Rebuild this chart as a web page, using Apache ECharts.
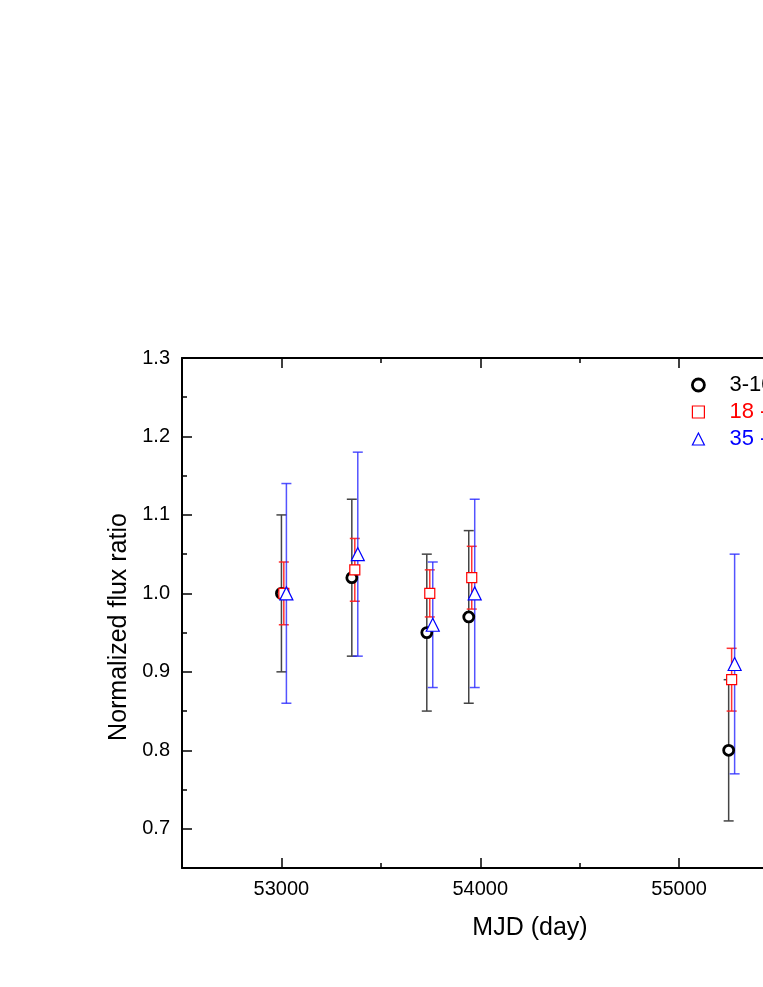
<!DOCTYPE html>
<html><head><meta charset="utf-8">
<script src="https://cdn.jsdelivr.net/npm/echarts@6/dist/echarts.min.js"></script>
<style>html,body{margin:0;padding:0;overflow:hidden;background:#fff}#c{width:960px;height:987px}</style>
</head><body><div id="c"></div>
<script>
// ---- data ----
const seriesNames = ['3-10 keV', '18 - 35 keV', '35 - 60 keV'];
const seriesColors = ['#000000', '#ff0000', '#0000ff'];
const barColors = ['#444444', 'rgba(255,30,30,0.9)', 'rgba(40,40,255,0.8)'];

const mjdBlack = [53000, 53354, 53731, 53942, 55249];
const ratioBlack = [1.00, 1.02, 0.95, 0.97, 0.80];
const errBlack = [0.10, 0.10, 0.10, 0.11, 0.09];

const mjdRed = [53012, 53369, 53746, 53957, 55264];
const ratioRed = [1.00, 1.03, 1.00, 1.02, 0.89];
const errRed = [0.04, 0.04, 0.03, 0.04, 0.04];

const mjdBlue = [53025, 53384, 53761, 53972, 55279];
const ratioBlue = [1.00, 1.05, 0.96, 1.00, 0.91];
const errBlue = [0.14, 0.13, 0.08, 0.12, 0.14];

const xMajorTicks = [53000, 54000, 55000, 56000];
const xLabelValues = [53000, 54000, 55000];
const xMinorTicks = [53500, 54500, 55500];
const yMajorTicks = [0.7, 0.8, 0.9, 1.0, 1.1, 1.2, 1.3];
const yMinorTicks = [0.75, 0.85, 0.95, 1.05, 1.15, 1.25];

const xRange = [52500, 56000];
const yRange = [0.65, 1.3];

// ---- build ----
const FONT = 'Liberation Sans, Arial, Helvetica, sans-serif';
const mjds = [mjdBlack, mjdRed, mjdBlue];
const ratios = [ratioBlack, ratioRed, ratioBlue];
const errs = [errBlack, errRed, errBlue];
const symbols = ['circle', 'rect', 'triangle'];
const symbolSizes = [10, 10, 13];
const borderWidths = [2.8, 1.2, 1.2];

function errRender(color) {
  return function (params, api) {
    const x = api.value(0), lo = api.value(1), hi = api.value(2);
    const a = api.coord([x, lo]), b = api.coord([x, hi]);
    const cap = 5;
    const style = { stroke: color, lineWidth: 1.5, fill: null };
    return {
      type: 'group', children: [
        { type: 'line', shape: { x1: a[0], y1: a[1], x2: b[0], y2: b[1] }, style },
        { type: 'line', shape: { x1: a[0] - cap, y1: a[1], x2: a[0] + cap, y2: a[1] }, style },
        { type: 'line', shape: { x1: b[0] - cap, y1: b[1], x2: b[0] + cap, y2: b[1] }, style }
      ]
    };
  };
}

const series = [];
for (let k = 0; k < 3; k++) {
  series.push({
    type: 'custom', name: 'err' + k, xAxisIndex: 0, yAxisIndex: 0, z: 2,
    renderItem: errRender(barColors[k]),
    encode: { x: 0, y: [1, 2] },
    data: mjds[k].map((m, i) => [m, ratios[k][i] - errs[k][i], ratios[k][i] + errs[k][i]])
  });
}
for (let k = 0; k < 3; k++) {
  series.push({
    type: 'scatter', name: seriesNames[k], xAxisIndex: 0, yAxisIndex: 0, z: 3 + k,
    symbol: symbols[k], symbolSize: symbolSizes[k],
    itemStyle: { color: '#ffffff', borderColor: seriesColors[k], borderWidth: borderWidths[k], opacity: 1 },
    data: mjds[k].map((m, i) => [m, ratios[k][i]])
  });
}

function xAxisDef(pos, ticks, len, showLine, labels, name) {
  return {
    type: 'value', position: pos, min: xRange[0], max: xRange[1], gridIndex: 0,
    name: name || '', nameLocation: 'middle', nameGap: 48,
    nameTextStyle: { fontFamily: FONT, fontSize: 25, color: '#000' },
    axisLine: { show: showLine, onZero: false, lineStyle: { color: '#000', width: 2 } },
    axisTick: { show: true, inside: true, length: len, customValues: ticks, lineStyle: { color: '#000', width: 1.5 } },
    axisLabel: labels ? { show: true, customValues: labels, margin: 11, fontFamily: FONT, fontSize: 20, color: '#000', formatter: v => String(Math.round(v)) } : { show: false },
    splitLine: { show: false }
  };
}
function yAxisDef(pos, ticks, len, showLine, labels, name) {
  return {
    type: 'value', position: pos, min: yRange[0], max: yRange[1], gridIndex: 0,
    name: name || '', nameLocation: 'middle', nameGap: 50,
    nameTextStyle: { fontFamily: FONT, fontSize: 25, color: '#000', padding: [0, 28, 0, 0] },
    axisLine: { show: showLine, onZero: false, lineStyle: { color: '#000', width: 2 } },
    axisTick: { show: true, inside: true, length: len, customValues: ticks, lineStyle: { color: '#000', width: 1.5 } },
    axisLabel: labels ? { show: true, customValues: labels, margin: 12, fontFamily: FONT, fontSize: 20, color: '#000', formatter: v => Number(v).toFixed(1) } : { show: false },
    splitLine: { show: false }
  };
}

const option = {
  animation: false,
  backgroundColor: '#fff',
  grid: { left: 182, top: 358, right: 82, bottom: 119, containLabel: false },
  xAxis: [
    xAxisDef('bottom', xMajorTicks, 10, true, xLabelValues, 'MJD (day)'),
    xAxisDef('bottom', xMinorTicks, 5, false, null),
    xAxisDef('top', xMajorTicks, 10, true, null),
    xAxisDef('top', xMinorTicks, 5, false, null)
  ],
  yAxis: [
    yAxisDef('left', yMajorTicks, 10, true, yMajorTicks, 'Normalized flux ratio'),
    yAxisDef('left', yMinorTicks, 5, false, null),
    yAxisDef('right', yMajorTicks, 10, true, null),
    yAxisDef('right', yMinorTicks, 5, false, null)
  ],
  legend: {
    orient: 'vertical', left: 691, top: 374, padding: 0,
    itemWidth: 12, itemHeight: 12, itemGap: 5,
    textStyle: { fontFamily: FONT, fontSize: 22, padding: [0, 0, 0, 20] },
    data: seriesNames.map((n, k) => ({
      name: n,
      textStyle: { color: seriesColors[k] },
      itemStyle: { color: '#ffffff', borderColor: seriesColors[k], borderWidth: k === 0 ? 2.8 : 1.2 }
    }))
  },
  series
};

const chart = echarts.init(document.getElementById('c'), null, { renderer: 'canvas' });
chart.setOption(option);
</script>
</body></html>
